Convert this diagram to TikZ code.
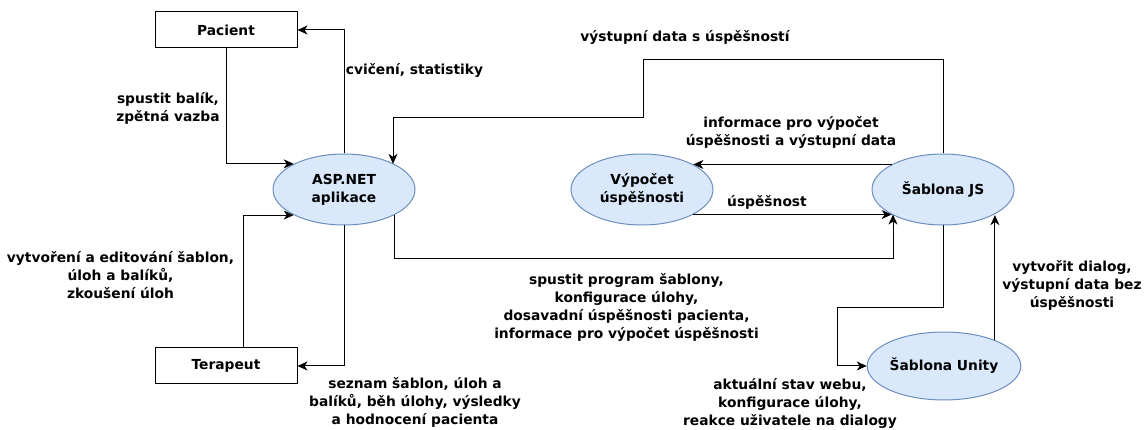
\documentclass[tikz,border=0pt]{standalone}
\usepackage{fontspec}
\setmainfont{DejaVu Sans}
\usepackage{tikz}
\usetikzlibrary{arrows.meta, positioning, shapes.geometric, calc}

\definecolor{ellfill}{HTML}{DAE8FC}
\definecolor{elldraw}{HTML}{6C8EBF}

\begin{document}
\begin{tikzpicture}[
  x=1pt, y=-1pt,
  every node/.style={align=center, font=\fontsize{13.8}{18}\selectfont\bfseries},
  actor/.style={rectangle, draw, line width=1pt, fill=white, minimum width=142pt, minimum height=36pt, inner sep=0pt},
  proc/.style={ellipse, draw=elldraw, line width=1pt, fill=ellfill, minimum width=142pt, minimum height=71pt, inner sep=0pt},
  lbl/.style={inner sep=0pt},
  flow/.style={line width=1pt, -{Stealth[length=10pt, width=9pt, inset=3pt]}}
]

% Canvas
\useasboundingbox (0,0) rectangle (1144,430);

% Actors (boxes)
\node (pacient) [actor] at (226, 30) {Pacient};
\node (terapeut) [actor] at (226, 366) {Terapeut};

% Processes (ellipses)
\node (asp) [proc] at (344, 189.5) {ASP.NET\\aplikace};
\node (vypocet) [proc] at (642, 189.5) {Výpočet\\úspěšnosti};
\node (sablonajs) [proc] at (943, 189.5) {Šablona JS};
\node (unity) [proc, minimum height=68pt] at (944, 366) {Šablona Unity};

% Bend points
\coordinate (topbend) at (643, 60);
\coordinate (midbend) at (393, 118);
\coordinate (runbend) at (893, 259);
\coordinate (unitybend) at (837, 308);

% Connectors
\draw[flow] (pacient.south) |- (asp.153);
\draw[flow] (asp.north) |- (pacient.east);
\draw[flow] ([xshift=17pt]terapeut.north) |- (asp.207);
\draw[flow] (asp.south) |- (terapeut.east);
\draw[flow] (sablonajs.north) |- (topbend) |- (midbend) -- (midbend |- asp.27);
\draw[flow] (sablonajs.154) -- (vypocet.26);
\draw[flow] (vypocet.334) -- (sablonajs.206);
\draw[flow] (asp.333) |- (runbend) -- (runbend |- sablonajs.206);
\draw[flow] (sablonajs.south) |- (unitybend) |- (unity.west);
\draw[flow] (unity.27) -- (unity.27 |- sablonajs.333);

% Labels
\node (lpacin) [lbl] at (168, 108) {spustit balík,\\zpětná vazba};
\node (lpacout) [lbl] at (414.5, 70) {cvičení, statistiky};
\node (lteracin) [lbl] at (120.5, 275) {vytvoření a editování šablon,\\úloh a balíků,\\zkoušení úloh};
\node (lteraout) [lbl] at (415, 402) {seznam šablon, úloh a\\balíků, běh úlohy, výsledky\\a hodnocení pacienta};
\node (lout) [lbl] at (685, 37) {výstupní data s úspěšností};
\node (linfo) [lbl] at (791, 132) {informace pro výpočet\\úspěšnosti a výstupní data};
\node (lusp) [lbl] at (767, 202) {úspěšnost};
\node (lrun) [lbl] at (626.5, 307.5) {spustit program šablony,\\konfigurace úlohy,\\dosavadní úspěšnosti pacienta,\\informace pro výpočet úspěšnosti};
\node (lweb) [lbl] at (790, 403) {aktuální stav webu,\\konfigurace úlohy,\\reakce uživatele na dialogy};
\node (ldialog) [lbl] at (1072, 285) {vytvořit dialog,\\výstupní data bez\\úspěšnosti};

\end{tikzpicture}
\end{document}
